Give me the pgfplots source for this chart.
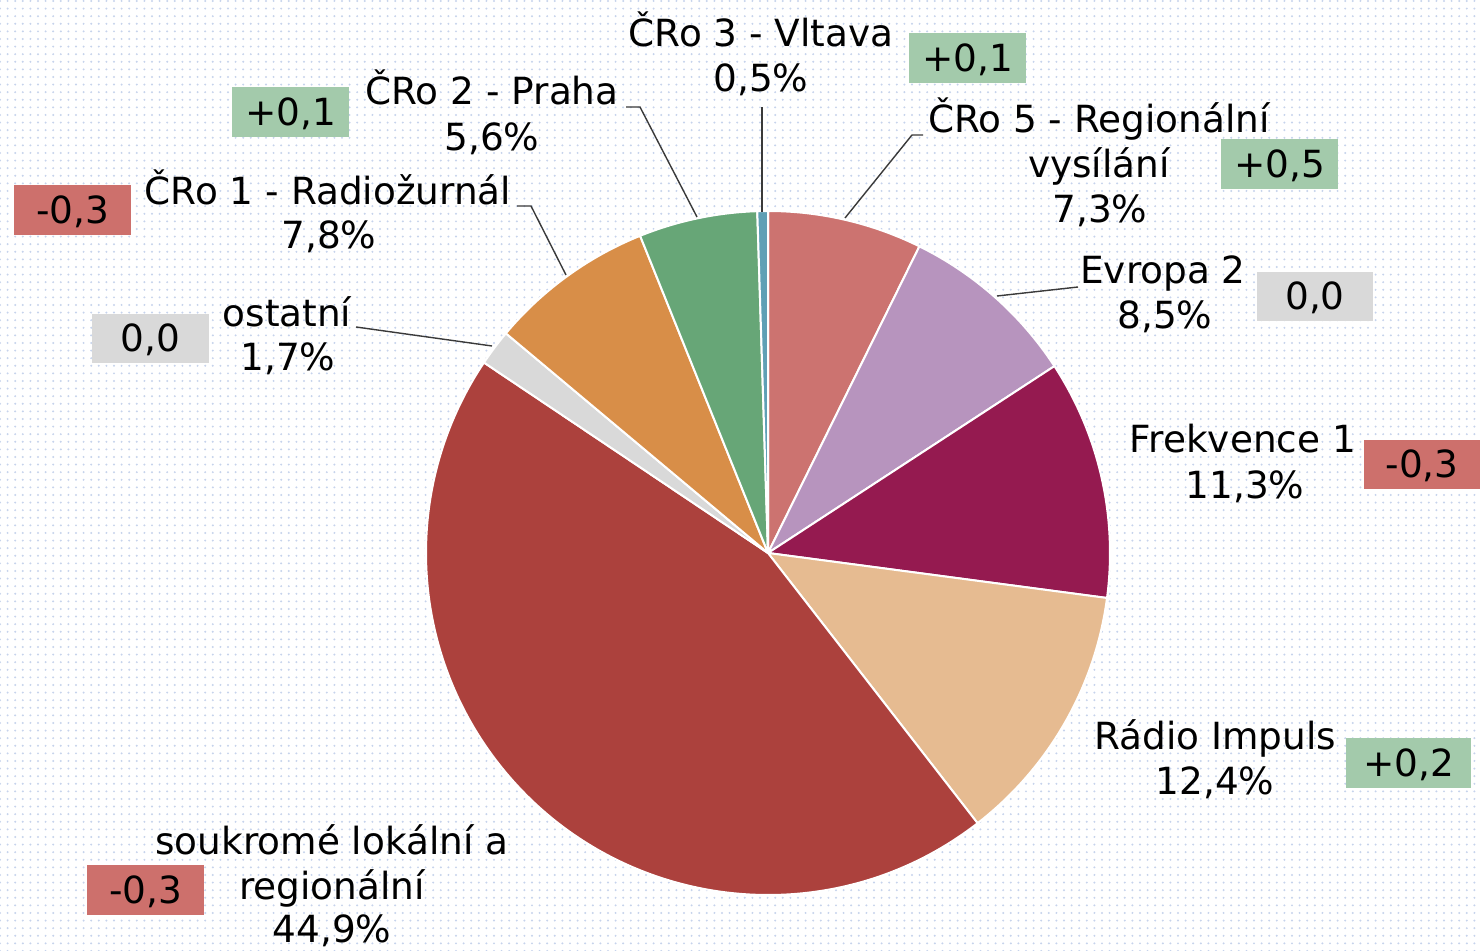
\documentclass[border=0pt]{standalone}
\usepackage{pgfplots}
\pgfplotsset{compat=1.18}
\usepackage{pgfplotstable}
\usepackage{fontspec}
\setmainfont{DejaVu Sans}
\usetikzlibrary{patterns.meta}

\definecolor{cA}{HTML}{CC7370}
\definecolor{cB}{HTML}{B794BE}
\definecolor{cC}{HTML}{951A50}
\definecolor{cD}{HTML}{E6BB91}
\definecolor{cE}{HTML}{AC413D}
\definecolor{cF}{HTML}{D9D9D9}
\definecolor{cG}{HTML}{D88E48}
\definecolor{cH}{HTML}{67A677}
\definecolor{cI}{HTML}{5FA0B5}
\definecolor{bGreen}{HTML}{A3CAAB}
\definecolor{bRed}{HTML}{CD706C}
\definecolor{bGray}{HTML}{D9D9D9}
\definecolor{dotc}{HTML}{C6D3EC}
\definecolor{leader}{HTML}{3A3A3A}

% shares in %, clockwise from 12 o'clock
\pgfplotstableread[col sep=comma]{
share,color
7.3,cA
8.5,cB
11.3,cC
12.4,cD
44.9,cE
1.7,cF
7.8,cG
5.6,cH
0.5,cI
}\piedata

\def\cumangle{90}
\pgfplotsforeachungrouped \i in {0,...,8}{%
  \pgfplotstablegetelem{\i}{share}\of\piedata
  \pgfmathsetmacro\endang{\cumangle-3.6*\pgfplotsretval}%
  \expandafter\xdef\csname sa\i\endcsname{\cumangle}%
  \expandafter\xdef\csname ea\i\endcsname{\endang}%
  \pgfplotstablegetelem{\i}{color}\of\piedata
  \expandafter\xdef\csname col\i\endcsname{\pgfplotsretval}%
  \xdef\cumangle{\endang}%
}

\newcommand\lf{\fontsize{18.7}{22.5}\selectfont}
\newcommand\lab[3]{\node[anchor=base,inner sep=0pt,font=\lf,text=black] at (axis cs:#1,#2) {#3};}
\newcommand\dbox[6]{%
  \fill[#5] (axis cs:#1,#2) rectangle (axis cs:#3,#4);
  \node[anchor=base,inner sep=0pt,font=\lf,text=black] at (axis cs:{(#1+#3)/2},{(#2+#4)/2+13.5}) {#6};}

\begin{document}
\begin{tikzpicture}
\begin{axis}[x=0.5pt,y=0.5pt,y dir=reverse,
  xmin=0,xmax=1480,ymin=0,ymax=951,
  hide axis,clip=false,scale only axis]
\fill[white] (axis cs:0,0) rectangle (axis cs:1480,951);
\fill[pattern={Dots[distance=3.8pt,radius=0.55pt]},pattern color=dotc] (axis cs:0,0) rectangle (axis cs:1480,951);

\pgfplotsinvokeforeach{0,...,8}{%
  \edef\tmp{\noexpand\fill[fill=\csname col#1\endcsname,draw=white,line width=1pt,line join=round]
    (axis cs:768,553) -- ++(\csname sa#1\endcsname:171pt)
    arc[start angle=\csname sa#1\endcsname,end angle=\csname ea#1\endcsname,radius=171pt] -- cycle;}%
  \tmp
}

% leader lines
\draw[leader,line width=0.7pt] (axis cs:845,218) -- (axis cs:912,135) -- (axis cs:923,135);
\draw[leader,line width=0.7pt] (axis cs:997,296) -- (axis cs:1078,287);
\draw[leader,line width=0.7pt] (axis cs:762,212) -- (axis cs:762,107);
\draw[leader,line width=0.7pt] (axis cs:697,217) -- (axis cs:640,107) -- (axis cs:626,107);
\draw[leader,line width=0.7pt] (axis cs:566,275) -- (axis cs:531,206) -- (axis cs:517,206);
\draw[leader,line width=0.7pt] (axis cs:492,346) -- (axis cs:356,327);

% labels
\lab{761}{47}{ČRo 3 - Vltava}
\lab{761}{92}{0,5\%}
\lab{1099}{133}{ČRo 5 - Regionální}
\lab{1099}{178}{vysílání}
\lab{1100}{223}{7,3\%}
\lab{1163}{284}{Evropa 2}
\lab{1165}{329}{8,5\%}
\lab{1243}{453}{Frekvence 1}
\lab{1245}{499}{11,3\%}
\lab{1215}{750}{Rádio Impuls}
\lab{1215}{795}{12,4\%}
\lab{332}{855}{soukromé lokální a}
\lab{332}{900}{regionální}
\lab{332}{943}{44,9\%}
\lab{287}{327}{ostatní}
\lab{288}{371}{1,7\%}
\lab{328}{205}{ČRo 1 - Radiožurnál}
\lab{329}{249}{7,8\%}
\lab{492}{105}{ČRo 2 - Praha}
\lab{492}{151}{5,6\%}

% change boxes
\dbox{909}{33}{1026}{83}{bGreen}{+0,1}
\dbox{1221}{139}{1338}{189}{bGreen}{+0,5}
\dbox{1257}{272}{1373}{321}{bGray}{0,0}
\dbox{1364}{440}{1480}{489}{bRed}{-0,3}
\dbox{1346}{738}{1471}{788}{bGreen}{+0,2}
\dbox{87}{865}{204}{915}{bRed}{-0,3}
\dbox{92}{314}{209}{363}{bGray}{0,0}
\dbox{14}{185}{131}{235}{bRed}{-0,3}
\dbox{232}{87}{349}{137}{bGreen}{+0,1}
\end{axis}
\end{tikzpicture}
\end{document}
